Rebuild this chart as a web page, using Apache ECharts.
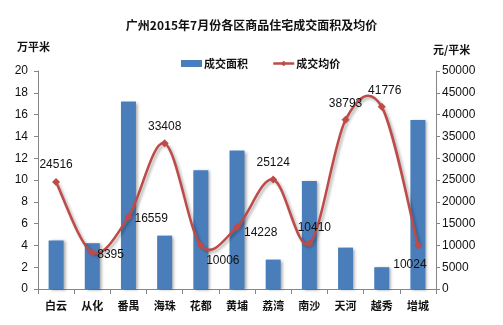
<!DOCTYPE html>
<html>
<head>
<meta charset="utf-8">
<script src="https://cdn.jsdelivr.net/npm/echarts@6/dist/echarts.min.js"></script>
<style>
html,body{margin:0;padding:0;background:#fff;}
#chart{width:503px;height:325px;}
</style>
</head>
<body>
<div id="chart"></div>
<script>
// 广州各区 2015年7月 商品住宅成交数据
const districts = ['白云', '从化', '番禺', '海珠', '花都', '黄埔', '荔湾', '南沙', '天河', '越秀', '增城'];
const areaWan = [4.45, 4.2, 17.2, 4.9, 10.9, 12.7, 2.7, 9.9, 3.8, 2.0, 15.5];   // 成交面积（万平米）
const avgPrice = [24516, 8395, 16559, 33408, 10006, 14228, 25124, 10410, 38793, 41776, 10024]; // 成交均价（元/平米）
const leftTicks = { min: 0, max: 20, interval: 2 };
const rightTicks = { min: 0, max: 50000, interval: 5000 };

// where each price label sits relative to its point
const labelSpots = [
  { position: 'top', offset: [0, -2] },
  { position: 'right', offset: [-4, 2] },
  { position: 'right', offset: [-3, 2] },
  { position: 'top', offset: [0, -2] },
  { position: 'bottom', offset: [22, 0] },
  { position: 'right', offset: [-2, 6] },
  { position: 'top', offset: [0, -2] },
  { position: 'top', offset: [5, -1] },
  { position: 'top', offset: [0, -1] },
  { position: 'top', offset: [3, -1] },
  { position: 'bottom', offset: [-8, 4] }
];

const font = '"Noto Sans CJK SC", "Noto Sans", sans-serif';
const numFont = '"Liberation Sans", "Noto Sans", sans-serif';
const lineColor = '#BE4B48';
const barColor = '#4A7EBB';
const lineShadow = { shadowColor: 'rgba(0,0,0,0.3)', shadowBlur: 3, shadowOffsetX: 2, shadowOffsetY: 2 };

// smooth curve through the price points (cardinal spline, tension 1/6)
function curvePath(pts) {
  let d = 'M' + pts[0][0] + ' ' + pts[0][1];
  for (let i = 0; i < pts.length - 1; i++) {
    const p0 = pts[Math.max(i - 1, 0)], p1 = pts[i], p2 = pts[i + 1], p3 = pts[Math.min(i + 2, pts.length - 1)];
    const c1 = [p1[0] + (p2[0] - p0[0]) / 6, p1[1] + (p2[1] - p0[1]) / 6];
    const c2 = [p2[0] - (p3[0] - p1[0]) / 6, p2[1] - (p3[1] - p1[1]) / 6];
    d += ' C' + c1[0] + ' ' + c1[1] + ' ' + c2[0] + ' ' + c2[1] + ' ' + p2[0] + ' ' + p2[1];
  }
  return d;
}

const chart = echarts.init(document.getElementById('chart'), null, { renderer: 'canvas' });
chart.setOption({
  backgroundColor: '#fff',
  animation: false,
  title: [
    { text: '广州2015年7月份各区商品住宅成交面积及均价', left: 'center', top: 14,
      textStyle: { fontFamily: font, fontSize: 12, fontWeight: 'bold', color: '#111' } },
    { text: '万平米', left: 12, top: 36,
      textStyle: { fontFamily: font, fontSize: 11, fontWeight: 'bold', color: '#111' } },
    { text: '元/平米', left: 428, top: 39,
      textStyle: { fontFamily: font, fontSize: 11, fontWeight: 'bold', color: '#111' } }
  ],
  legend: {
    top: 53, left: 176, itemGap: 24,
    itemWidth: 21, itemHeight: 7,
    textStyle: { fontFamily: font, fontSize: 11, fontWeight: 'bold', color: '#111', padding: [0, 0, 0, -3] },
    data: [
      { name: '成交面积', icon: 'rect' },
      { name: '成交均价', lineStyle: { color: lineColor, width: 2.5, opacity: 1 } }
    ]
  },
  grid: { left: 38, right: 67, top: 71, bottom: 36 },
  xAxis: {
    type: 'category',
    data: districts,
    axisLine: { lineStyle: { color: '#868686' } },
    axisTick: { show: true, alignWithLabel: false, length: 5, lineStyle: { color: '#868686' } },
    axisLabel: { fontFamily: font, fontSize: 11, fontWeight: 'bold', color: '#111', margin: 11 }
  },
  yAxis: [
    {
      type: 'value', min: leftTicks.min, max: leftTicks.max, interval: leftTicks.interval,
      axisLine: { show: true, lineStyle: { color: '#868686' } },
      axisTick: { show: true, length: 4, lineStyle: { color: '#868686' } },
      axisLabel: { fontFamily: numFont, fontSize: 12, color: '#111', margin: 10 },
      splitLine: { show: false }
    },
    {
      type: 'value', min: rightTicks.min, max: rightTicks.max, interval: rightTicks.interval,
      position: 'right',
      axisLine: { show: true, lineStyle: { color: '#868686' } },
      axisTick: { show: true, length: 4, lineStyle: { color: '#868686' } },
      axisLabel: { fontFamily: numFont, fontSize: 12, color: '#111', margin: 6, formatter: v => String(v) },
      splitLine: { show: false }
    }
  ],
  series: [
    {
      name: '成交面积', type: 'bar', yAxisIndex: 0,
      data: areaWan,
      barWidth: 15,
      itemStyle: {
        color: barColor,
        shadowColor: 'rgba(0,0,0,0.35)', shadowBlur: 3, shadowOffsetX: 2, shadowOffsetY: 1
      }
    },
    {
      // the smoothed price curve, drawn once from all points
      name: '成交均价曲线', type: 'custom', yAxisIndex: 1,
      data: avgPrice,
      encode: { x: -1, y: 0 },
      silent: true,
      z: 4,
      renderItem: function (params, api) {
        if (params.dataIndex !== 0) return null;
        const pts = avgPrice.map((v, i) => api.coord([i, v]));
        return {
          type: 'path',
          shape: { pathData: curvePath(pts) },
          style: Object.assign({ fill: null, stroke: lineColor, lineWidth: 2.5 }, lineShadow)
        };
      }
    },
    {
      name: '成交均价', type: 'line', yAxisIndex: 1,
      symbol: 'diamond', symbolSize: 8,
      data: avgPrice.map((v, i) => ({ value: v, label: labelSpots[i] })),
      lineStyle: { opacity: 0 },
      itemStyle: { color: lineColor },
      label: { show: true, fontFamily: numFont, fontSize: 12, color: '#111' },
      z: 5
    }
  ]
});
</script>
</body>
</html>
